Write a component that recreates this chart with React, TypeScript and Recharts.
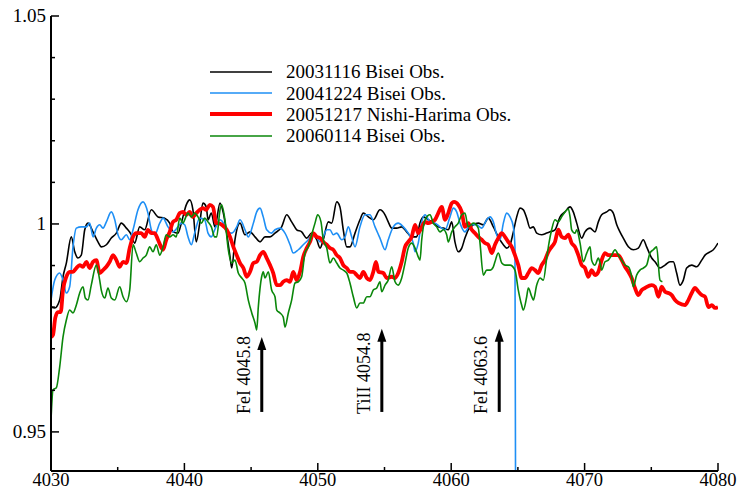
import React from 'react';
import { LineChart, Line, XAxis, YAxis, ReferenceLine } from 'recharts';

const FONT = '"Liberation Serif", "Times New Roman", serif';

// axis ticks
const xTicks = [4030, 4035, 4040, 4045, 4050, 4055, 4060, 4065, 4070, 4075, 4080];
const xLabelTicks = [4030, 4040, 4050, 4060, 4070, 4080];
const yTicks = [0.95, 0.96, 0.97, 0.98, 0.99, 1.0, 1.01, 1.02, 1.03, 1.04, 1.05];
const yLabelValues = [0.95, 1.0, 1.05];
const yLabelTexts = ['0.95', '1', '1.05'];
const xDomain = [4030, 4080];
const yDomain = [0.9406, 1.05];

// series names / styles
const seriesNames = ['20031116 Bisei Obs.', '20041224 Bisei Obs.', '20051217 Nishi-Harima Obs.', '20060114 Bisei Obs.'];
const seriesColors = ['#000000', '#1e8ff5', '#ff0000', '#0a870a'];
const seriesWidths = [1.6, 1.6, 3.8, 1.6];

// line identification markers
const markerLabels = ['FeI 4045.8', 'TiII 4054.8', 'FeI 4063.6'];
const markerX = [4045.8, 4054.8, 4063.6];
const markerTop = [0.9728, 0.9748, 0.9748];
const markerBottom = 0.9548;

// [wavelength, normalized flux]
const black2003: [number, number][] = [
  [4030.0, 0.98], [4030.28, 0.9798], [4030.65, 0.9817], [4030.9, 0.9873], [4031.15, 0.9906], [4031.52, 0.9969], [4031.78, 0.9933], [4032.02, 0.9918], [4032.27, 0.9925], [4032.53, 0.9986],
  [4032.77, 1.0002], [4033.15, 0.9981], [4033.52, 0.9957], [4033.77, 0.9945], [4034.15, 0.995], [4034.52, 0.9966], [4034.9, 0.9978], [4035.27, 1.0002], [4035.65, 0.999], [4036.02, 0.9974],
  [4036.27, 0.9954], [4036.65, 0.9993], [4037.02, 0.9986], [4037.52, 1.0034], [4038.02, 1.0017], [4038.52, 1.0014], [4038.9, 1.0002], [4039.15, 0.9981], [4039.52, 0.9978], [4039.77, 1.0002],
  [4040.14, 1.0046], [4040.4, 1.0058], [4040.64, 1.0034], [4040.89, 0.9957], [4041.15, 1.0002], [4041.39, 1.005], [4041.64, 1.0041], [4041.77, 1.001], [4042.02, 1.0026], [4042.29, 0.9993],
  [4042.67, 1.005], [4042.92, 1.0026], [4043.17, 0.9978], [4043.42, 0.9921], [4043.55, 0.9894], [4043.79, 0.9962], [4044.17, 1.0002], [4044.54, 0.9974], [4044.92, 0.9981], [4045.29, 0.9969],
  [4045.67, 0.9957], [4046.04, 0.9969], [4046.42, 0.9969], [4046.79, 0.9978], [4047.29, 0.9993], [4047.67, 1.0022], [4048.04, 1.0005], [4048.42, 0.9986], [4048.79, 0.9981], [4049.17, 0.9966],
  [4049.54, 0.9978], [4049.92, 0.9962], [4050.17, 0.9942], [4050.41, 0.9962], [4050.79, 1.0005], [4051.04, 1.0002], [4051.42, 1.0053], [4051.66, 1.0041], [4051.91, 0.9986], [4052.17, 0.9945],
  [4052.41, 0.9945], [4052.79, 0.9978], [4053.16, 1.001], [4053.41, 1.0026], [4053.79, 1.0017], [4054.16, 1.001], [4054.66, 1.0034], [4055.04, 1.0022], [4055.28, 1.0005], [4055.54, 0.999],
  [4055.91, 0.999], [4056.29, 0.9993], [4056.66, 0.9981], [4057.04, 0.9969], [4057.41, 0.9969], [4057.66, 1.0002], [4057.91, 1.0017], [4058.28, 1.001], [4058.66, 1.0002], [4059.03, 0.9993],
  [4059.41, 0.999], [4059.78, 0.9986], [4060.04, 1.0005], [4060.28, 0.9957], [4060.53, 0.9933], [4060.79, 0.9942], [4061.03, 0.9966], [4061.28, 0.9986], [4061.66, 0.9998], [4062.03, 1.0002],
  [4062.41, 0.9998], [4062.78, 1.0014], [4063.16, 0.9993], [4063.53, 0.9969], [4063.91, 0.995], [4064.16, 0.9942], [4064.41, 0.995], [4064.66, 0.9981], [4064.91, 1.0017], [4065.16, 1.0038],
  [4065.41, 1.0034], [4065.66, 1.0014], [4065.91, 0.999], [4066.15, 0.9993], [4066.41, 0.9978], [4066.78, 0.9974], [4067.16, 0.9978], [4067.41, 0.9981], [4067.78, 0.9986], [4068.16, 1.0017],
  [4068.53, 1.0029], [4068.91, 1.0041], [4069.15, 1.0029], [4069.41, 1.0002], [4069.78, 0.9966], [4070.03, 0.9981], [4070.41, 0.999], [4070.78, 0.9981], [4071.03, 1.0005], [4071.28, 1.0022],
  [4071.66, 1.0029], [4071.9, 1.0034], [4072.15, 1.0026], [4072.41, 0.9998], [4072.65, 0.9981], [4072.9, 0.9966], [4073.28, 0.9945], [4073.65, 0.9938], [4074.03, 0.9942], [4074.4, 0.9962],
  [4074.65, 0.9945], [4075.03, 0.9918], [4075.28, 0.9909], [4075.65, 0.9894], [4076.03, 0.9901], [4076.4, 0.9909], [4076.65, 0.9909], [4076.9, 0.9882], [4077.15, 0.9853], [4077.4, 0.9865],
  [4077.65, 0.9894], [4078.03, 0.9901], [4078.4, 0.9897], [4078.78, 0.9913], [4079.03, 0.9925], [4079.4, 0.9933], [4079.65, 0.9938], [4080.0, 0.9954],
];

const blue2004: [number, number][] = [
  [4030.0, 0.9817], [4030.28, 0.9865], [4030.65, 0.9882], [4030.9, 0.9865], [4031.15, 0.9834], [4031.4, 0.9849], [4031.65, 0.9945], [4031.9, 0.999], [4032.27, 0.9993], [4032.65, 0.9993],
  [4032.9, 1.0002], [4033.15, 0.9969], [4033.4, 0.999], [4033.65, 0.9998], [4033.9, 0.999], [4034.15, 1.0005], [4034.52, 1.0029], [4034.78, 1.001], [4035.02, 0.9974], [4035.27, 0.9962],
  [4035.65, 0.9974], [4035.9, 0.9962], [4036.15, 0.9986], [4036.52, 1.0034], [4036.9, 1.0053], [4037.27, 1.0026], [4037.52, 0.9986], [4037.77, 0.9974], [4038.15, 1.0002], [4038.4, 1.0014],
  [4038.77, 0.9993], [4039.15, 0.9981], [4039.52, 0.9993], [4039.77, 1.0002], [4040.02, 0.9998], [4040.27, 0.9969], [4040.52, 0.995], [4040.77, 0.9978], [4041.15, 1.0014], [4041.52, 1.001],
  [4041.77, 0.9978], [4042.02, 0.9969], [4042.27, 0.9986], [4042.67, 1.001], [4042.92, 1.0002], [4043.17, 0.9981], [4043.55, 0.9978], [4043.92, 0.9993], [4044.17, 1.001], [4044.54, 0.9986],
  [4044.79, 0.9969], [4045.17, 1.0002], [4045.42, 1.0029], [4045.67, 1.0038], [4045.91, 1.0017], [4046.17, 0.9986], [4046.54, 0.9978], [4046.79, 0.9986], [4047.17, 0.999], [4047.54, 0.9978],
  [4047.92, 0.995], [4048.16, 0.993], [4048.54, 0.9938], [4048.91, 0.995], [4049.29, 0.9962], [4049.66, 0.9978], [4049.92, 0.9969], [4050.17, 0.9957], [4050.41, 0.9969], [4050.67, 0.9986],
  [4050.91, 0.9986], [4051.16, 0.9974], [4051.42, 0.9978], [4051.79, 0.9962], [4052.04, 0.9969], [4052.29, 0.9993], [4052.54, 0.9969], [4052.79, 0.9945], [4053.16, 0.9993], [4053.54, 1.0022],
  [4053.91, 1.0022], [4054.29, 0.9993], [4054.66, 0.9966], [4055.04, 0.9938], [4055.28, 0.9962], [4055.66, 0.9993], [4056.03, 1.0002], [4056.41, 0.9993], [4056.78, 0.9978], [4057.16, 0.9954],
  [4057.29, 0.9933], [4057.53, 0.9954], [4057.79, 1.0005], [4058.04, 1.0022], [4058.41, 1.0005], [4058.79, 1.0002], [4059.16, 0.9993], [4059.54, 0.9986], [4059.91, 1.0017], [4060.16, 1.0038],
  [4060.41, 1.0029], [4060.66, 1.0002], [4061.03, 0.9981], [4061.41, 0.9998], [4061.91, 0.9998], [4062.29, 0.999], [4062.66, 1.001], [4062.91, 1.0017], [4063.16, 1.0005], [4063.41, 0.9974],
  [4063.66, 0.9962], [4063.91, 1.0002], [4064.16, 1.0026], [4064.41, 1.0017], [4064.66, 0.9993], [4064.78, 0.9945], [4064.83, 0.93],
];

const red2005: [number, number][] = [
  [4030.0, 0.9728], [4030.15, 0.9733], [4030.32, 0.9774], [4030.52, 0.9788], [4030.73, 0.9788], [4030.9, 0.9841], [4031.15, 0.9873], [4031.4, 0.9885], [4031.65, 0.9885], [4031.9, 0.9894],
  [4032.15, 0.9901], [4032.4, 0.9897], [4032.65, 0.9909], [4032.9, 0.9894], [4033.15, 0.9909], [4033.4, 0.9913], [4033.65, 0.9882], [4033.9, 0.9889], [4034.15, 0.9897], [4034.4, 0.9909],
  [4034.65, 0.9925], [4034.9, 0.9913], [4035.15, 0.9897], [4035.4, 0.9909], [4035.65, 0.9906], [4035.9, 0.9942], [4036.15, 0.9969], [4036.39, 0.9978], [4036.77, 0.9978], [4037.02, 0.9969],
  [4037.27, 0.9986], [4037.52, 0.9978], [4037.77, 0.9978], [4038.02, 0.9962], [4038.4, 0.9938], [4038.64, 0.9962], [4038.9, 0.9981], [4039.15, 1.0005], [4039.39, 1.001], [4039.65, 1.0026],
  [4039.9, 1.0029], [4040.14, 1.0022], [4040.4, 1.0029], [4040.64, 1.0017], [4040.89, 1.0026], [4041.15, 1.0034], [4041.39, 1.0038], [4041.64, 1.0034], [4041.9, 1.0046], [4042.14, 1.0041],
  [4042.39, 1.0002], [4042.54, 1.0002], [4042.8, 0.9998], [4043.17, 0.9986], [4043.42, 0.9969], [4043.67, 0.9945], [4043.92, 0.9925], [4044.17, 0.9906], [4044.42, 0.9894], [4044.67, 0.9873],
  [4044.92, 0.9885], [4045.17, 0.9906], [4045.42, 0.9909], [4045.67, 0.9925], [4045.91, 0.9933], [4046.17, 0.9918], [4046.42, 0.9901], [4046.66, 0.9882], [4046.92, 0.9853], [4047.17, 0.9853],
  [4047.41, 0.9861], [4047.67, 0.9865], [4047.92, 0.9861], [4048.16, 0.9885], [4048.42, 0.9865], [4048.67, 0.9885], [4048.91, 0.9921], [4049.17, 0.9942], [4049.42, 0.9957], [4049.66, 0.9978],
  [4049.92, 0.9969], [4050.17, 0.9966], [4050.41, 0.9957], [4050.67, 0.995], [4050.91, 0.9942], [4051.16, 0.9938], [4051.42, 0.9925], [4051.66, 0.9918], [4051.91, 0.9901], [4052.17, 0.9894],
  [4052.41, 0.9885], [4052.66, 0.9885], [4052.92, 0.9877], [4053.16, 0.987], [4053.41, 0.9885], [4053.67, 0.987], [4053.91, 0.9865], [4054.16, 0.9885], [4054.36, 0.9909], [4054.54, 0.9885],
  [4054.91, 0.9882], [4055.17, 0.987], [4055.54, 0.9873], [4055.79, 0.987], [4056.03, 0.9882], [4056.29, 0.9909], [4056.54, 0.9945], [4056.78, 0.9957], [4057.04, 0.9969], [4057.29, 0.9998],
  [4057.53, 0.9978], [4057.79, 0.9993], [4058.04, 1.0005], [4058.28, 1.0002], [4058.54, 1.0005], [4058.79, 1.001], [4059.03, 1.0026], [4059.29, 1.0041], [4059.54, 1.001], [4059.78, 1.0026],
  [4060.04, 1.005], [4060.21, 1.0053], [4060.53, 1.0046], [4060.79, 1.0029], [4061.03, 0.9993], [4061.28, 1.0002], [4061.54, 0.9986], [4061.78, 0.9978], [4062.03, 0.9969], [4062.29, 0.9962],
  [4062.53, 0.9954], [4062.78, 0.995], [4063.04, 0.993], [4063.28, 0.995], [4063.53, 0.9966], [4063.79, 0.9978], [4064.03, 0.9969], [4064.28, 0.9957], [4064.54, 0.9945], [4064.78, 0.9925],
  [4065.03, 0.9901], [4065.28, 0.987], [4065.53, 0.987], [4065.78, 0.9882], [4066.04, 0.9894], [4066.28, 0.9889], [4066.53, 0.9882], [4066.78, 0.9901], [4067.03, 0.9913], [4067.28, 0.9933],
  [4067.53, 0.9945], [4067.78, 0.9957], [4068.03, 0.9986], [4068.28, 0.9969], [4068.53, 0.9966], [4068.78, 0.9974], [4069.03, 0.9954], [4069.28, 0.9945], [4069.53, 0.9925], [4069.78, 0.9901],
  [4070.03, 0.9894], [4070.28, 0.9873], [4070.53, 0.9889], [4070.78, 0.9877], [4071.03, 0.9885], [4071.28, 0.9913], [4071.53, 0.993], [4071.78, 0.9925], [4072.03, 0.9925], [4072.53, 0.9925],
  [4072.78, 0.9913], [4073.03, 0.9897], [4073.28, 0.9885], [4073.53, 0.987], [4073.78, 0.9846], [4074.03, 0.9829], [4074.28, 0.9841], [4074.53, 0.9846], [4075.03, 0.9853], [4075.28, 0.9849],
  [4075.53, 0.9825], [4075.78, 0.9849], [4076.03, 0.9837], [4076.28, 0.9834], [4076.53, 0.9829], [4076.78, 0.9817], [4077.03, 0.981], [4077.53, 0.9805], [4077.78, 0.9817], [4078.03, 0.9834],
  [4078.28, 0.9846], [4078.53, 0.9837], [4078.78, 0.9829], [4079.03, 0.9825], [4079.28, 0.98], [4079.53, 0.9805], [4079.78, 0.9798], [4080.0, 0.98],
];

const green2006: [number, number][] = [
  [4030.0, 0.9529], [4030.15, 0.9601], [4030.4, 0.9606], [4030.65, 0.9656], [4030.9, 0.9728], [4031.15, 0.9769], [4031.4, 0.9793], [4031.65, 0.9786], [4031.9, 0.9805], [4032.15, 0.9834],
  [4032.4, 0.9849], [4032.57, 0.9822], [4032.77, 0.9817], [4033.02, 0.9853], [4033.4, 0.9901], [4033.65, 0.9865], [4033.77, 0.9841], [4034.03, 0.9822], [4034.27, 0.9846], [4034.52, 0.9822],
  [4034.78, 0.9817], [4035.15, 0.9849], [4035.4, 0.9825], [4035.65, 0.9813], [4035.9, 0.9841], [4036.15, 0.995], [4036.39, 0.993], [4036.65, 0.9909], [4036.9, 0.9918], [4037.14, 0.9925],
  [4037.4, 0.9945], [4037.65, 0.9933], [4037.89, 0.995], [4038.15, 0.9925], [4038.4, 0.9945], [4038.64, 0.9974], [4038.9, 0.9969], [4039.15, 0.9974], [4039.39, 0.9969], [4039.65, 1.0014],
  [4039.9, 1.0002], [4040.02, 1.001], [4040.27, 1.0026], [4040.52, 1.0017], [4040.77, 1.0026], [4041.02, 1.0017], [4041.27, 1.0002], [4041.52, 1.0014], [4041.77, 1.0005], [4042.02, 0.9993],
  [4042.27, 0.9969], [4042.42, 0.9969], [4042.67, 1.0034], [4042.79, 1.0046], [4043.04, 1.001], [4043.29, 0.9938], [4043.55, 0.9906], [4043.79, 0.9913], [4044.04, 0.9882], [4044.3, 0.987],
  [4044.54, 0.9858], [4044.79, 0.9817], [4045.05, 0.9786], [4045.29, 0.9762], [4045.42, 0.9745], [4045.54, 0.98], [4045.79, 0.9873], [4045.91, 0.9885], [4046.04, 0.987], [4046.29, 0.9885],
  [4046.54, 0.9841], [4046.79, 0.9825], [4046.92, 0.9793], [4047.17, 0.9786], [4047.41, 0.9776], [4047.54, 0.9752], [4047.79, 0.9786], [4048.04, 0.9817], [4048.29, 0.9858], [4048.54, 0.9861],
  [4048.79, 0.9873], [4049.04, 0.993], [4049.29, 0.9945], [4049.54, 0.9974], [4049.79, 1.0002], [4049.99, 1.0022], [4050.24, 1.0005], [4050.41, 0.9962], [4050.67, 0.9942], [4050.91, 0.9906],
  [4051.16, 0.9918], [4051.42, 0.9906], [4051.66, 0.9894], [4051.91, 0.9889], [4052.17, 0.9882], [4052.41, 0.9858], [4052.66, 0.9825], [4052.92, 0.9798], [4053.16, 0.981], [4053.41, 0.981],
  [4053.67, 0.9825], [4053.91, 0.9825], [4054.16, 0.9841], [4054.42, 0.9846], [4054.66, 0.9861], [4054.79, 0.9837], [4055.04, 0.9853], [4055.28, 0.9865], [4055.54, 0.9897], [4055.79, 0.9861],
  [4056.03, 0.9853], [4056.29, 0.987], [4056.54, 0.9906], [4056.78, 0.9942], [4057.04, 0.9954], [4057.29, 0.9942], [4057.53, 0.9921], [4057.66, 0.9913], [4057.79, 0.9962], [4058.04, 1.001],
  [4058.41, 1.0022], [4058.66, 1.0002], [4058.91, 0.9993], [4059.16, 0.9981], [4059.41, 0.9986], [4059.66, 0.9974], [4059.78, 0.9957], [4060.04, 0.9981], [4060.28, 0.9993], [4060.53, 1.0002],
  [4060.79, 1.0022], [4061.03, 1.0026], [4061.28, 0.9993], [4061.66, 1.0002], [4062.03, 0.999], [4062.16, 0.9954], [4062.41, 0.9877], [4062.66, 0.9889], [4062.91, 0.9889], [4063.16, 0.9897],
  [4063.28, 0.9909], [4063.53, 0.993], [4063.79, 0.9906], [4064.03, 0.9901], [4064.41, 0.9901], [4064.78, 0.9889], [4065.03, 0.9841], [4065.28, 0.9805], [4065.41, 0.9793], [4065.66, 0.9825],
  [4065.78, 0.9846], [4066.04, 0.9825], [4066.16, 0.9817], [4066.41, 0.9853], [4066.66, 0.987], [4066.91, 0.9865], [4067.16, 0.9918], [4067.33, 0.9954], [4067.53, 0.9986], [4067.78, 1.001],
  [4068.03, 1.0005], [4068.28, 1.0017], [4068.53, 1.0029], [4068.78, 1.0036], [4068.91, 1.0017], [4069.03, 0.9986], [4069.28, 0.9978], [4069.41, 0.9986], [4069.66, 0.9954], [4069.9, 0.9909],
  [4070.16, 0.993], [4070.41, 0.9945], [4070.53, 0.9913], [4070.78, 0.9901], [4071.03, 0.9918], [4071.16, 0.9906], [4071.28, 0.9889], [4071.53, 0.9909], [4071.78, 0.9913], [4072.03, 0.9925],
  [4072.28, 0.9938], [4072.53, 0.9925], [4072.78, 0.9913], [4073.03, 0.9901], [4073.28, 0.9897], [4073.53, 0.9873], [4073.65, 0.9849], [4073.9, 0.9877], [4074.15, 0.9889], [4074.4, 0.9894],
  [4074.65, 0.9901], [4074.9, 0.993], [4075.15, 0.9938], [4075.4, 0.9945], [4075.65, 0.9865], [4075.83, 0.9861],
];

const allSeries = [black2003, blue2004, red2005, green2006];
const toPoints = (s: [number, number][]) => s.map(([x, y]) => ({ x, y }));

const near = (a: number, b: number) => Math.abs(a - b) < 1e-6;

const BottomTick = (props: any) => {
  const { x, y, payload } = props;
  const major = xLabelTicks.some((v) => near(v, payload.value));
  return (
    <g>
      <line x1={x} y1={y} x2={x} y2={y - (major ? 8 : 4)} stroke="#000" strokeWidth={1.5} />
      {major && (
        <text x={x} y={y + 15} textAnchor="middle" fontFamily={FONT} fontSize={18.5} fill="#000">
          {payload.value}
        </text>
      )}
    </g>
  );
};

const TopTick = (props: any) => {
  const { x, y, payload } = props;
  const major = xLabelTicks.some((v) => near(v, payload.value));
  return <line x1={x} y1={y} x2={x} y2={y + (major ? 8 : 4)} stroke="#000" strokeWidth={1.5} />;
};

const LeftTick = (props: any) => {
  const { x, y, payload } = props;
  const idx = yLabelValues.findIndex((v) => near(v, payload.value));
  const major = idx >= 0;
  return (
    <g>
      <line x1={x} y1={y} x2={x + (major ? 8 : 4)} y2={y} stroke="#000" strokeWidth={1.5} />
      {major && (
        <text x={x - 5} y={y + 6} textAnchor="end" fontFamily={FONT} fontSize={19} fill="#000">
          {yLabelTexts[idx]}
        </text>
      )}
    </g>
  );
};

const RightTick = (props: any) => {
  const { x, y, payload } = props;
  const major = yLabelValues.some((v) => near(v, payload.value));
  return <line x1={x} y1={y} x2={x - (major ? 8 : 4)} y2={y} stroke="#000" strokeWidth={1.5} />;
};

const makeArrowShape = (label: string) => (p: any) => {
  const x = p.x1;
  const yb = Math.max(p.y1, p.y2);
  const yt = Math.min(p.y1, p.y2);
  return (
    <g>
      <line x1={x} y1={yb} x2={x} y2={yt + 10} stroke="#000" strokeWidth={3} />
      <polygon points={`${x},${yt} ${x - 4.5},${yt + 13} ${x + 4.5},${yt + 13}`} fill="#000" />
      <text
        transform={`translate(${x - 12},${yb + 2}) rotate(-90)`}
        fontFamily={FONT}
        fontSize={18}
        fill="#000"
      >
        {label}
      </text>
    </g>
  );
};

const Legend = () => (
  <div
    style={{
      position: 'absolute',
      left: 210,
      top: 61,
      fontFamily: FONT,
      fontSize: 19,
      color: '#000',
    }}
  >
    {seriesNames.map((name, i) => (
      <div key={name} style={{ display: 'flex', alignItems: 'center', height: 21.4 }}>
        <svg width={62} height={8} style={{ marginRight: 14 }}>
          <line x1={0} y1={4} x2={62} y2={4} stroke={seriesColors[i]} strokeWidth={seriesWidths[i]} />
        </svg>
        <span style={{ whiteSpace: 'nowrap', lineHeight: '21px' }}>{name}</span>
      </div>
    ))}
  </div>
);

export default function App() {
  return (
    <div style={{ position: 'absolute', left: 0, top: 0, width: 738, height: 491, background: '#fff' }}>
      <LineChart width={738} height={491} margin={{ top: 16, right: 20, bottom: 0, left: 0 }}>
        <XAxis
          dataKey="x"
          type="number"
          domain={xDomain}
          ticks={xTicks}
          interval={0}
          allowDataOverflow
          height={20}
          tickSize={0}
          tickMargin={0}
          tickLine={false}
          tick={<BottomTick />}
          axisLine={{ stroke: '#000', strokeWidth: 2 }}
        />
        <XAxis
          xAxisId="top"
          orientation="top"
          type="number"
          domain={xDomain}
          ticks={xTicks}
          interval={0}
          allowDataOverflow
          height={0}
          tickSize={0}
          tickMargin={0}
          tickLine={false}
          tick={<TopTick />}
          axisLine={{ stroke: '#000', strokeWidth: 2 }}
        />
        <YAxis
          type="number"
          domain={yDomain}
          ticks={yTicks}
          interval={0}
          allowDataOverflow
          width={51}
          tickSize={0}
          tickMargin={0}
          tickLine={false}
          tick={<LeftTick />}
          axisLine={{ stroke: '#000', strokeWidth: 2 }}
        />
        <YAxis
          yAxisId="right"
          orientation="right"
          type="number"
          domain={yDomain}
          ticks={yTicks}
          interval={0}
          allowDataOverflow
          width={0}
          tickSize={0}
          tickMargin={0}
          tickLine={false}
          tick={<RightTick />}
          axisLine={{ stroke: '#000', strokeWidth: 2 }}
        />
        {allSeries.map((s, i) => (
          <Line
            key={seriesNames[i]}
            name={seriesNames[i]}
            data={toPoints(s)}
            dataKey="y"
            type="monotone"
            stroke={seriesColors[i]}
            strokeWidth={seriesWidths[i]}
            dot={false}
            activeDot={false}
            isAnimationActive={false}
          />
        ))}
        {markerLabels.map((label, i) => (
          <ReferenceLine
            key={label}
            segment={[
              { x: markerX[i], y: markerBottom },
              { x: markerX[i], y: markerTop[i] },
            ]}
            stroke="#000"
            shape={makeArrowShape(label)}
          />
        ))}
      </LineChart>
      <Legend />
    </div>
  );
}
